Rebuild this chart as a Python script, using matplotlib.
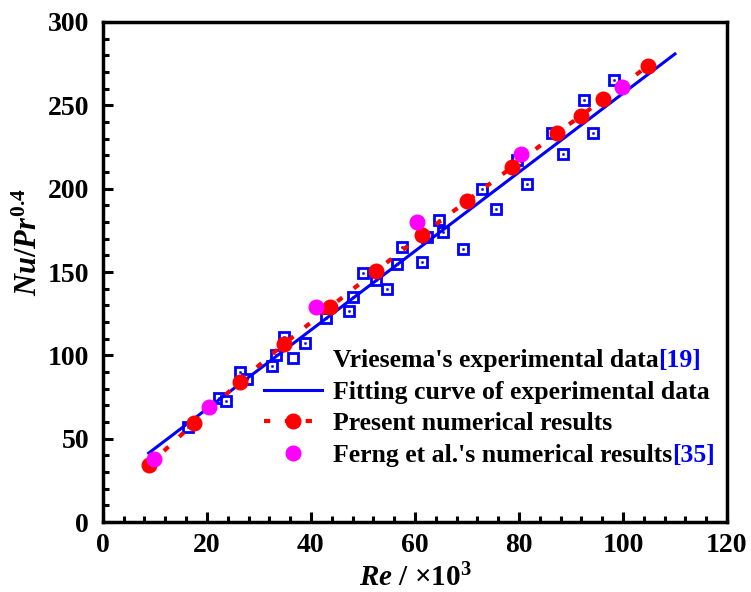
import matplotlib
matplotlib.use("Agg")
import matplotlib.pyplot as plt
from matplotlib.ticker import MultipleLocator

plt.rcParams['font.family'] = ['Liberation Serif', 'DejaVu Serif']
plt.rcParams['font.weight'] = 'bold'
plt.rcParams['mathtext.fontset'] = 'custom'
plt.rcParams['mathtext.rm'] = 'Liberation Serif:bold'
plt.rcParams['mathtext.it'] = 'Liberation Serif:bold:italic'
plt.rcParams['mathtext.bf'] = 'Liberation Serif:bold'

# Vriesema's experimental data [19]
exp_re = [16.3, 22.3, 23.7, 26.3, 27.7, 32.5, 33.3, 34.8, 38.8, 42.9, 47.3, 48.1,
          50.0, 52.5, 54.6, 56.5, 57.5, 61.3, 62.3, 64.6, 65.4, 69.2, 72.9, 75.6,
          79.6, 81.5, 86.3, 88.5, 92.5, 94.2, 98.3]
exp_nu = [57.0, 74.4, 72.6, 90.0, 85.8, 93.6, 100.2, 111.0, 107.4, 122.4, 126.6, 135.0,
          149.4, 145.2, 139.8, 154.8, 165.0, 156.0, 171.0, 181.2, 174.0, 163.8, 199.8, 187.8,
          217.2, 202.8, 233.4, 220.8, 253.2, 233.4, 265.2]

# Fitting curve of experimental data
fit_re = [8.8, 110.0]
fit_nu = [41.4, 280.8]

# Present numerical results
num_re = [8.8, 17.5, 26.3, 34.8, 43.7, 52.5, 61.3, 70.0, 78.7, 87.3, 91.9, 96.2, 104.8]
num_nu = [34.2, 59.4, 84.0, 106.8, 129.0, 150.6, 172.2, 192.6, 213.0, 233.4, 243.6, 253.8, 273.6]

# Ferng et al.'s numerical results [35]
ferng_re = [9.8, 20.4, 41.0, 60.4, 80.4, 99.8]
ferng_nu = [37.8, 69.0, 129.0, 180.0, 220.8, 261.0]

labels = ["Vriesema's experimental data", "Fitting curve of experimental data",
          "Present numerical results", "Ferng et al.'s numerical results"]
refs = ["[19]", None, None, "[35]"]

fig = plt.figure(figsize=(7.51, 5.92), dpi=100)
ax = fig.add_axes([0.137, 0.118, 0.831, 0.845])

h1, = ax.plot(exp_re, exp_nu, linestyle='none', marker='s', markersize=7.5,
              markerfacecolor='white', markeredgecolor='#0000ff', markeredgewidth=2, zorder=3)
ax.plot(exp_re, exp_nu, linestyle='none', marker='s', markersize=1.2,
        markerfacecolor='#0000ff', markeredgecolor='#0000ff', markeredgewidth=0.5, zorder=3)
h2, = ax.plot(fit_re, fit_nu, color='#0000ff', linewidth=2.2, zorder=4)
h3, = ax.plot(num_re, num_nu, color='#ff0000', linestyle=(0, (1.5, 3.5)), linewidth=3,
              marker='o', markersize=10.5, markerfacecolor='#ff0000', markeredgecolor='#ff0000', zorder=5)
h4, = ax.plot(ferng_re, ferng_nu, linestyle='none', marker='o', markersize=10.5,
              markerfacecolor='#ff00ff', markeredgecolor='#ff00ff', zorder=6)

ax.set_xlim(0, 120)
ax.set_ylim(0, 300)
ax.xaxis.set_major_locator(MultipleLocator(20))
ax.xaxis.set_minor_locator(MultipleLocator(4))
ax.yaxis.set_major_locator(MultipleLocator(50))
ax.yaxis.set_minor_locator(MultipleLocator(10))
ax.tick_params(which='both', direction='in', top=False, right=False, width=2.2)
ax.tick_params(which='major', length=7, labelsize=20)
ax.tick_params(axis='x', which='major', pad=8)
ax.tick_params(axis='y', which='major', pad=10)
ax.tick_params(which='minor', length=4)
for lab in ax.get_xticklabels() + ax.get_yticklabels():
    lab.set_fontweight('bold')
for s in ax.spines.values():
    s.set_linewidth(2.5)

ax.set_xlabel(r'$Re$ / ×10$^{\mathrm{3}}$', fontsize=21, fontweight='bold', labelpad=4)
ax.set_ylabel(r'$Nu/Pr^{\mathrm{0.4}}$', fontsize=22, fontweight='bold')
ax.yaxis.set_label_coords(-0.095, 0.56)

fs = 18.5
leg = ax.legend([h1, h2, h3, h4], labels, loc='upper left', bbox_to_anchor=(0.238, 0.372),
                frameon=False, borderpad=0, handlelength=2.25, handletextpad=0.42,
                labelspacing=0.34, prop={'family': 'Liberation Serif', 'weight': 'bold', 'size': fs})

fig.canvas.draw()
renderer = fig.canvas.get_renderer()
for txt, ref in zip(leg.get_texts(), refs):
    if ref is None:
        continue
    bb = txt.get_window_extent(renderer)
    x, y = fig.transFigure.inverted().transform((bb.x1, bb.y0))
    fig.text(x, y, ref, color='#0000ff', fontsize=fs, fontweight='bold',
             family='Liberation Serif', ha='left', va='bottom',
             transform=fig.transFigure)

fig.savefig('out.png', dpi=100)
